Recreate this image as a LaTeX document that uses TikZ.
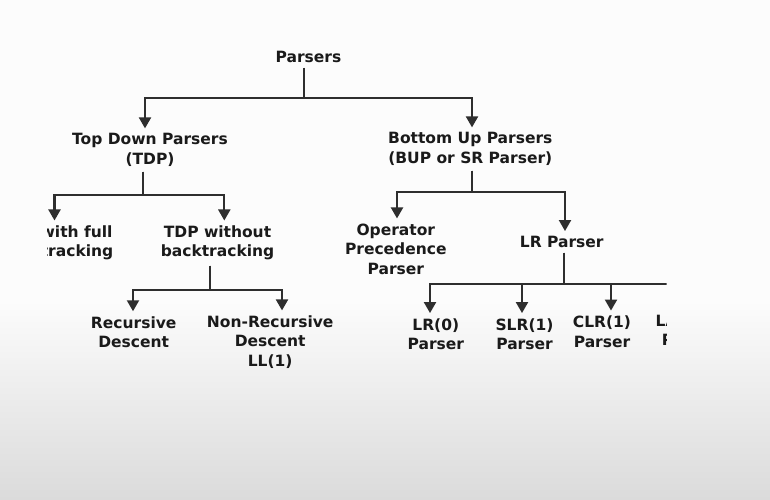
\documentclass[tikz,border=0pt]{standalone}
\usepackage{fontspec}
\setmainfont{DejaVu Sans}
\usetikzlibrary{arrows.meta,calc}
\definecolor{ink}{HTML}{1A1A1A}
\definecolor{wire}{HTML}{2E2E2E}
\definecolor{shadetop}{HTML}{FCFCFC}
\definecolor{shadebot}{HTML}{DBDBDB}
\begin{document}
\begin{tikzpicture}[x=1pt,y=-1pt,
  lbl/.style={font=\fontsize{15.5}{19.5}\selectfont\bfseries, text=ink, align=center,
              inner xsep=0pt, inner ysep=5pt, anchor=center},
  conn/.style={draw=wire, line width=2.1pt, -{Triangle[length=11pt,width=12pt]}}]
\useasboundingbox (0,0) rectangle (770,499);
\fill[shadetop] (0,0) rectangle (770,301);
\shade[top color=shadetop, bottom color=shadebot] (0,300) rectangle (770,499);
\begin{scope}
\clip (47.5,0) rectangle (666.5,499);
% nodes
\node[lbl] (parsers) at (308.5,57) {Parsers};
\node[lbl] (tdp) at (150,150) {Top Down Parsers\\(TDP)};
\node[lbl] (bup) at (470.3,149) {Bottom Up Parsers\\(BUP or SR Parser)};
\node[lbl] (withfull) at (56.5,243) {TDP with full\\backtracking};
\node[lbl] (tdpwo) at (217.5,243) {TDP without\\backtracking};
\node[lbl] (oprec) at (395.8,249) {Operator\\Precedence\\Parser};
\node[lbl] (lr) at (561.7,242) {LR Parser};
\node[lbl] (recdesc) at (133.7,332.2) {Recursive\\Descent};
\node[lbl] (nonrec) at (270.2,342) {Non-Recursive\\Descent\\LL(1)};
\node[lbl] (lrzero) at (435.8,334) {LR(0)\\Parser};
\node[lbl] (slr) at (524.5,334) {SLR(1)\\Parser};
\node[lbl] (clr) at (602,331.5) {CLR(1)\\Parser};
\node[lbl] (lalr) at (690,330) {LALR(1)\\Parser};
% connectors
\draw[conn] ($(parsers.south)+(-4.5,0)$) -- ++(0,30.3) -| ($(tdp.north)+(-5,0)$);
\draw[conn] ($(parsers.south)+(-4.5,0)$) -- ++(0,30.3) -| ($(bup.north)+(1.7,0)$);
\draw[conn] ($(tdp.south)+(-7,0)$) -- ++(0,23.5) -| ($(withfull.north)+(-2,0)$);
\draw[conn] ($(tdp.south)+(-7,0)$) -- ++(0,23.5) -| ($(tdpwo.north)+(6.8,0)$);
\draw[conn] ($(tdpwo.south)+(-7.5,0)$) -- ++(0,24.7) -| ($(recdesc.north)+(-0.7,0)$);
\draw[conn] ($(tdpwo.south)+(-7.5,0)$) -- ++(0,24.7) -| ($(nonrec.north)+(11.8,0)$);
\draw[conn] ($(bup.south)+(1.7,0)$) -- ++(0,21.5) -| ($(oprec.north)+(1.2,0)$);
\draw[conn] ($(bup.south)+(1.7,0)$) -- ++(0,21.5) -| ($(lr.north)+(3.3,0)$);
\draw[conn] ($(lr.south)+(2.3,0)$) -- ++(0,31.3) -| ($(lrzero.north)+(-5.8,0)$);
\draw[conn] ($(lr.south)+(2.3,0)$) -- ++(0,31.3) -| ($(slr.north)+(-2.5,0)$);
\draw[conn] ($(lr.south)+(2.3,0)$) -- ++(0,31.3) -| ($(clr.north)+(9,0)$);
\draw[conn] ($(lr.south)+(2.3,0)$) -- ++(0,31.3) -| ($(lalr.north)+(10,0)$);
\end{scope}
\end{tikzpicture}
\end{document}
